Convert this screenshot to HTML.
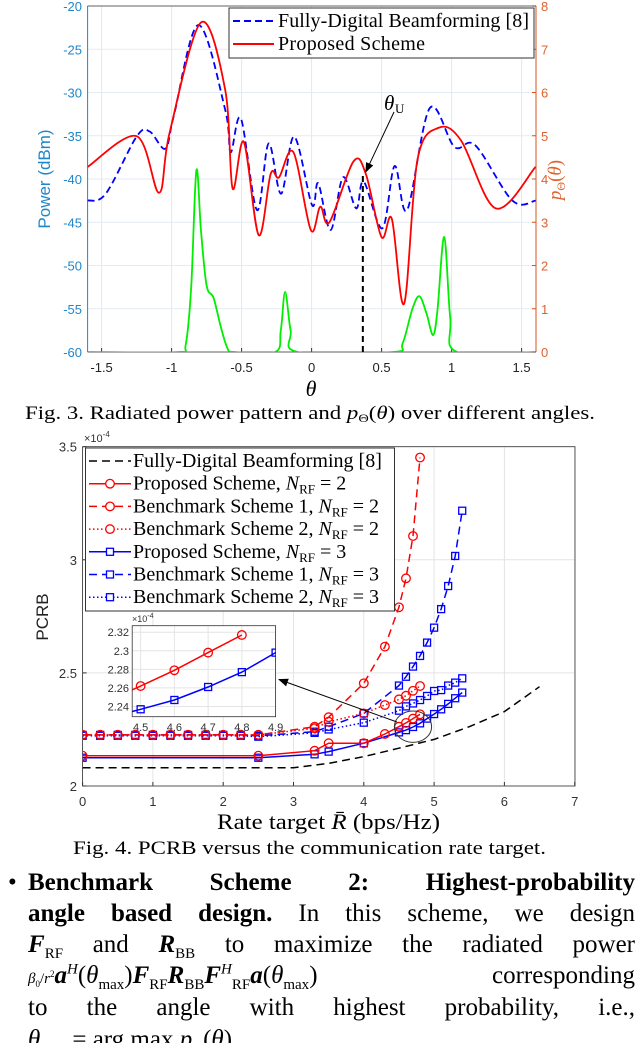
<!DOCTYPE html>
<html><head><meta charset="utf-8">
<style>
html,body{margin:0;padding:0;background:#fff;}
#wrap{position:relative;width:640px;height:1043px;overflow:hidden;background:#fff;}
svg{position:absolute;left:0;top:0;}
.ln{position:absolute;left:28px;width:607px;height:30px;font-family:"Liberation Serif",serif;font-size:25px;line-height:30px;white-space:nowrap;text-align:justify;text-align-last:justify;color:#000;}
.b{font-weight:bold;}
.m{font-style:italic;font-weight:bold;}
sub,sup{font-size:60%;line-height:0;}
</style></head>
<body>
<div id="wrap">
<svg id="svg" width="640" height="1043" viewBox="0 0 640 1043" font-family="Liberation Sans, sans-serif"></svg>
<div class="ln" style="top:868px;left:8px;width:16px;text-align-last:left">•</div>
<div class="ln b" style="top:868px">Benchmark Scheme 2: Highest-probability</div>
<div class="ln" style="top:899px"><span class="b">angle based design.</span> In this scheme, we design</div>
<div class="ln" style="top:930px"><span class="m">F</span><sub>RF</sub> and <span class="m">R</span><sub>BB</sub> to maximize the radiated power</div>
<div class="ln" style="top:961px"><span style="font-size:15px"><i>β</i><sub>0</sub>/<i>r</i><sup>2</sup></span><span class="m">a</span><sup><i>H</i></sup>(<i>θ</i><sub>max</sub>)<span class="m">F</span><sub>RF</sub><span class="m">R</span><sub>BB</sub><span class="m">F</span><sup><i>H</i></sup><sub>RF</sub><span class="m">a</span>(<i>θ</i><sub>max</sub>) corresponding</div>
<div class="ln" style="top:993px">to the angle with highest probability, i.e.,</div>
<div class="ln" style="top:1025px;text-align-last:left"><i>θ</i><sub>max</sub> = arg max <i>p</i><sub>Θ</sub>(<i>θ</i>)</div>
</div>
<script>
// ---------- Fig 3 data ----------
const redTheta=[-1.6,-1.25,-1.09,-1.015,-0.79,-0.617,-0.564,-0.484,-0.378,-0.292,-0.233,-0.13,-0.006,0.062,0.127,0.298,0.387,0.499,0.573,0.661,0.756,0.903,1.066,1.316,1.6];
const redPower=[-38.6,-35.05,-41.6,-34.7,-21.9,-29.7,-41.1,-35.7,-46.5,-39.4,-39.8,-36.9,-45.9,-43.2,-45,-38,-39.4,-46.7,-44.6,-54.4,-37.8,-34.1,-35.5,-43.4,-38.6];
const blueTheta=[-1.6,-1.47,-1.25,-1.157,-1.045,-0.986,-0.809,-0.617,-0.578,-0.505,-0.39,-0.307,-0.218,-0.124,0.003,0.047,0.136,0.224,0.319,0.372,0.505,0.593,0.682,0.844,1.021,1.169,1.434,1.6];
const bluePower=[-42.5,-41.7,-35.1,-34.5,-36.5,-32.8,-22.2,-32,-36.9,-33,-43.6,-35.9,-41.7,-35.1,-43,-40.5,-45.9,-39.8,-43.4,-40.3,-45.7,-38.5,-43.6,-31.8,-36.3,-36.1,-42.5,-42.5];
const pdfTheta=[-1.6,-0.95,-0.9,-0.86,-0.823,-0.79,-0.75,-0.7,-0.65,-0.6,-0.55,-0.26,-0.22,-0.189,-0.15,-0.1,0.58,0.65,0.72,0.77,0.82,0.868,0.9,0.947,0.99,1.04,1.6];
const pdfVal=[0,0,0.15,1.5,4.2,2.8,1.54,1.25,0.6,0.08,0,0,0.5,1.39,0.5,0,0,0.2,1.0,1.29,0.9,0.39,1.0,2.66,0.8,0,0];
const thetaTicks=[-1.5,-1,-0.5,0,0.5,1,1.5];
const thetaTickLabels=["-1.5","-1","-0.5","0","0.5","1","1.5"];
const powerTicks=[-20,-25,-30,-35,-40,-45,-50,-55,-60];
const pdfTicks=[0,1,2,3,4,5,6,7,8];
const thetaU=0.366, thetaUPower=-39.4;

// ---------- Fig 4 data ----------
const flatX=[0,0.25,0.5,0.75,1,1.25,1.5,1.75,2,2.25,2.5];
const fdX=[0,3,3.5,4,4.5,5,5.5,6,6.5];
const fdY=[2.081,2.081,2.100,2.130,2.167,2.206,2.262,2.329,2.439];
const p2X=[0,2.5,3.3,3.5,4,4.3,4.5,4.6,4.7,4.8];
const p2Y=[2.134,2.134,2.156,2.189,2.189,2.230,2.262,2.279,2.298,2.317];
const b12X=[...flatX,3.3,3.5,4,4.3,4.5,4.6,4.7,4.8];
const b12Y=[2.226,2.226,2.226,2.226,2.226,2.226,2.226,2.226,2.226,2.226,2.226,2.262,2.304,2.454,2.616,2.790,2.918,3.105,3.452];
const b22X=[...flatX,3.3,3.5,4,4.3,4.5,4.6,4.7,4.8];
const b22Y=[2.226,2.226,2.226,2.226,2.226,2.226,2.226,2.226,2.226,2.226,2.226,2.255,2.284,2.321,2.358,2.383,2.399,2.421,2.442];
const p3X=[0,2.5,3.3,3.5,4,4.5,4.6,4.7,4.8,4.9,5.0,5.1,5.2,5.3,5.4];
const p3Y=[2.125,2.125,2.140,2.152,2.189,2.237,2.247,2.261,2.277,2.298,2.318,2.339,2.363,2.388,2.413];
const b13X=[...flatX,3.3,3.5,4,4.5,4.6,4.7,4.8,4.9,5.0,5.1,5.2,5.3,5.4];
const b13Y=[2.226,2.226,2.226,2.226,2.226,2.226,2.226,2.226,2.226,2.226,2.222,2.240,2.262,2.321,2.444,2.483,2.528,2.575,2.634,2.700,2.782,2.884,3.017,3.217];
const b23X=[...flatX,3.3,3.5,4,4.5,4.6,4.7,4.8,4.9,5.0,5.1,5.2,5.3,5.4];
const b23Y=[2.222,2.222,2.222,2.222,2.222,2.222,2.222,2.222,2.222,2.222,2.218,2.235,2.250,2.280,2.333,2.352,2.365,2.380,2.398,2.420,2.424,2.444,2.457,2.476];
const rateTicks=[0,1,2,3,4,5,6,7];
const pcrbTicks=[2,2.5,3,3.5];
const pcrbTickLabels=["2","2.5","3","3.5"];
const insetXTicks=[4.5,4.6,4.7,4.8,4.9];
const insetYTicks=[2.24,2.26,2.28,2.3,2.32];
const insetYLabels=["2.24","2.26","2.28","2.3","2.32"];

const NS="http://www.w3.org/2000/svg";
const svg=document.getElementById('svg');
function el(tag,attrs,parent){const e=document.createElementNS(NS,tag);for(const k in attrs)e.setAttribute(k,attrs[k]);(parent||svg).appendChild(e);return e;}
function txt(s,attrs,parent){const e=el('text',attrs,parent);e.textContent=s;return e;}
function smooth(pts){let d="M"+pts[0][0].toFixed(1)+","+pts[0][1].toFixed(1);
 for(let i=0;i<pts.length-1;i++){const p0=pts[Math.max(0,i-1)],p1=pts[i],p2=pts[i+1],p3=pts[Math.min(pts.length-1,i+2)];
 const c1=[p1[0]+(p2[0]-p0[0])/6,p1[1]+(p2[1]-p0[1])/6],c2=[p2[0]-(p3[0]-p1[0])/6,p2[1]-(p3[1]-p1[1])/6];
 d+="C"+c1[0].toFixed(1)+","+c1[1].toFixed(1)+" "+c2[0].toFixed(1)+","+c2[1].toFixed(1)+" "+p2[0].toFixed(1)+","+p2[1].toFixed(1);}return d;}
function poly(pts){return "M"+pts.map(p=>p[0].toFixed(1)+","+p[1].toFixed(1)).join("L");}

// ===== Fig 3 =====
const L1=87.6,R1=536,T1=6,B1=352;
const X1=t=>311.6+140*t, Y1=db=>T1+(-20-db)*8.65, Y1r=p=>B1-p*43.25;
const g1=el('g',{});  
el('defs',{},g1).innerHTML='<clipPath id="c1"><rect x="87.6" y="6" width="448.4" height="346"/></clipPath><clipPath id="c2"><rect x="82.6" y="446.7" width="492.4" height="339.3"/></clipPath><clipPath id="c3"><rect x="132.2" y="625.7" width="143.4" height="91"/></clipPath><marker id="ah" markerWidth="10" markerHeight="10" refX="9" refY="5" orient="auto"><path d="M0,1L10,5L0,9Z" fill="#000"/></marker>';
thetaTicks.forEach((t,i)=>{
 const g=el('line',{x1:X1(t),x2:X1(t),y1:T1,y2:B1,stroke:'#e3e8ee','stroke-width':1},g1);
  
 const lb=txt(thetaTickLabels[i],{x:X1(t),y:372,'font-size':13,'text-anchor':'middle',fill:'#222'},g1);
  
 el('line',{x1:X1(t),x2:X1(t),y1:B1,y2:B1-4,stroke:'#333'},g1);
});
powerTicks.forEach(v=>{
 const g=el('line',{x1:L1,x2:R1,y1:Y1(v),y2:Y1(v),stroke:'#e3ebf3','stroke-width':1},g1);
  
 const lb=txt(String(v),{x:82,y:Y1(v)+5,'font-size':13,'text-anchor':'end',fill:'#1f86c9'},g1);
  
});
pdfTicks.forEach(v=>{
 const lb=txt(String(v),{x:541,y:Y1r(v)+5,'font-size':13,fill:'#e0622c'},g1);
  
 el('line',{x1:R1,x2:R1-4,y1:Y1r(v),y2:Y1r(v),stroke:'#D95319'},g1);
});
el('line',{x1:L1,x2:L1,y1:T1,y2:B1,stroke:'#1f86c9','stroke-width':1},g1);
el('line',{x1:R1,x2:R1,y1:T1,y2:B1,stroke:'#D95319','stroke-width':1},g1);
el('line',{x1:L1,x2:R1,y1:T1,y2:T1,stroke:'#333','stroke-width':0.8},g1);
el('line',{x1:L1,x2:R1,y1:B1,y2:B1,stroke:'#333','stroke-width':0.8},g1);
const cg=el('g',{'clip-path':'url(#c1)'},g1);
let s=el('path',{d:smooth(pdfTheta.map((t,i)=>[X1(t),Y1r(pdfVal[i])])),fill:'none',stroke:'#00ee00','stroke-width':1.8},cg);
 
s=el('path',{d:smooth(blueTheta.map((t,i)=>[X1(t),Y1(bluePower[i])])),fill:'none',stroke:'#0000ff','stroke-width':1.8,'stroke-dasharray':'7,4'},cg);
 
s=el('path',{d:smooth(redTheta.map((t,i)=>[X1(t),Y1(redPower[i])])),fill:'none',stroke:'#ff0000','stroke-width':1.8},cg);
 
s=el('line',{x1:X1(thetaU),x2:X1(thetaU),y1:B1,y2:Y1(thetaUPower),stroke:'#000','stroke-width':2,'stroke-dasharray':'6,4'},g1);
 
el('line',{x1:394,y1:112,x2:X1(thetaU)+3,y2:Y1(thetaUPower)-2,stroke:'#000','stroke-width':1,'marker-end':'url(#ah)'},g1);
s=txt('θ',{x:384,y:110,'font-size':21,'font-style':'italic','font-family':'Liberation Serif, serif'},g1);
 
txt('U',{x:395,y:113,'font-size':13,'font-family':'Liberation Serif, serif'},g1);
const lg1=el('g',{},g1);  
el('rect',{x:229,y:8,width:305,height:50,fill:'#fff',stroke:'#333','stroke-width':1},lg1);
el('line',{x1:233,x2:274,y1:21,y2:21,stroke:'#0000ff','stroke-width':2,'stroke-dasharray':'7,4'},lg1);
txt('Fully-Digital Beamforming [8]',{x:278,y:27,'font-size':20,'textLength':251,'font-family':'Liberation Serif, serif'},lg1);
el('line',{x1:233,x2:274,y1:44,y2:44,stroke:'#ff0000','stroke-width':2},lg1);
txt('Proposed Scheme',{x:278,y:50,'font-size':20,'textLength':147,'font-family':'Liberation Serif, serif'},lg1);
s=txt('Power (dBm)',{x:0,y:0,'font-size':17,fill:'#1f86c9','text-anchor':'middle',transform:'translate(50,179) rotate(-90)'},g1);
 
s=el('text',{'font-size':19,fill:'#e0622c','text-anchor':'middle','font-family':'Liberation Serif, serif',transform:'translate(561,180) rotate(-90)'},g1);
s.innerHTML='<tspan font-style="italic">p</tspan><tspan font-size="12" dy="4">Θ</tspan><tspan dy="-4">(</tspan><tspan font-style="italic">θ</tspan><tspan>)</tspan>';
 
s=txt('θ',{x:311,y:396,'font-size':22,'font-style':'italic','text-anchor':'middle','font-family':'Liberation Serif, serif'},g1);
 
s=el('text',{x:25,y:419,'font-size':19,'textLength':570,'lengthAdjust':'spacingAndGlyphs','font-family':'Liberation Serif, serif'},g1);
s.innerHTML='Fig. 3.  Radiated power pattern and <tspan font-style="italic">p</tspan><tspan font-size="12" dy="3">Θ</tspan><tspan dy="-3">(</tspan><tspan font-style="italic">θ</tspan>) over different angles.';
 

// ===== Fig 4 =====
const L2=82.6,R2=575,T2=446.7,B2=786;
const X2=x=>L2+70.3*x, Y2=v=>B2-(v-2)*226.2;
const g2=el('g',{});  
rateTicks.forEach(t=>{
 const g=el('line',{x1:X2(t),x2:X2(t),y1:T2,y2:B2,stroke:'#e4e4e4'},g2);
  
 el('line',{x1:X2(t),x2:X2(t),y1:B2,y2:B2-4,stroke:'#333'},g2);
 const lb=txt(String(t),{x:X2(t),y:806,'font-size':13,'text-anchor':'middle',fill:'#333'},g2);
  
});
pcrbTicks.forEach((v,i)=>{
 const g=el('line',{x1:L2,x2:R2,y1:Y2(v),y2:Y2(v),stroke:'#e4e4e4'},g2);
  
 el('line',{x1:L2,x2:L2+4,y1:Y2(v),y2:Y2(v),stroke:'#333'},g2);
 const lb=txt(pcrbTickLabels[i],{x:77,y:Y2(v)+5,'font-size':13,'text-anchor':'end',fill:'#333'},g2);
  
});
el('rect',{x:L2,y:T2,width:R2-L2,height:B2-T2,fill:'none',stroke:'#333','stroke-width':0.8},g2);
s=el('text',{x:84,y:442,'font-size':11,fill:'#333'},g2); s.innerHTML='×10<tspan font-size="8" dy="-5">-4</tspan>';
 
function series(xs,ys,color,dash,mk,name,X,Y,parent){
 const g=el('g',{},parent);  
 el('path',{d:poly(xs.map((x,i)=>[X(x),Y(ys[i])])),fill:'none',stroke:color,'stroke-width':1.5,'stroke-dasharray':dash},g);
 xs.forEach((x,i)=>{
  let m;
  if(mk==='o') m=el('circle',{cx:X(x),cy:Y(ys[i]),r:4.3,fill:'none',stroke:color,'stroke-width':1.3},g);
  else if(mk==='s') m=el('rect',{x:X(x)-3.5,y:Y(ys[i])-3.5,width:7,height:7,fill:'none',stroke:color,'stroke-width':1.3},g);
  if(m){ }
 });
}
const pg=el('g',{'clip-path':'url(#c2)'},g2);
series(fdX,fdY,'#000','8,5',null,'fully-digital-series',X2,Y2,pg);
series(b23X,b23Y,'#0000ff','1.5,2.5','s','benchmark2-nrf3-series',X2,Y2,pg);
series(b13X,b13Y,'#0000ff','8,5','s','benchmark1-nrf3-series',X2,Y2,pg);
series(b22X,b22Y,'#ff0000','1.5,2.5','o','benchmark2-nrf2-series',X2,Y2,pg);
series(b12X,b12Y,'#ff0000','8,5','o','benchmark1-nrf2-series',X2,Y2,pg);
series(p3X,p3Y,'#0000ff','none','s','proposed-nrf3-series',X2,Y2,pg);
series(p2X,p2Y,'#ff0000','none','o','proposed-nrf2-series',X2,Y2,pg);
s=el('ellipse',{cx:413,cy:726.7,rx:18.6,ry:15.7,fill:'none',stroke:'#333','stroke-width':1},g2);
 
el('line',{x1:397,y1:722,x2:279,y2:679.5,stroke:'#000','stroke-width':1,'marker-end':'url(#ah)'},g2);
// legend
const lg2=el('g',{},g2);  
el('rect',{x:85.5,y:448,width:309,height:163,fill:'#fff',stroke:'#333','stroke-width':1},lg2);
const legNames=['Fully-Digital Beamforming [8]','Proposed Scheme, ','Benchmark Scheme 1, ','Benchmark Scheme 2, ','Proposed Scheme, ','Benchmark Scheme 1, ','Benchmark Scheme 2, '];
const legN=['','2','2','2','3','3','3'];
const legC=['#000','#ff0000','#ff0000','#ff0000','#0000ff','#0000ff','#0000ff'];
const legD=['8,5','none','8,5','1.5,2.5','none','8,5','1.5,2.5'];
const legM=[null,'o','o','o','s','s','s'];
legNames.forEach((n,i)=>{
 const y=461+i*22.7;
 const g=el('g',{},lg2);  
 el('line',{x1:89,x2:131,y1:y,y2:y,stroke:legC[i],'stroke-width':1.5,'stroke-dasharray':legD[i]},g);
 if(legM[i]==='o') el('circle',{cx:110,cy:y,r:4.3,fill:'#fff',stroke:legC[i],'stroke-width':1.3},g);
 if(legM[i]==='s') el('rect',{x:106.5,y:y-3.5,width:7,height:7,fill:'#fff',stroke:legC[i],'stroke-width':1.3},g);
 const t=el('text',{x:133,y:y+6,'font-size':20,'font-family':'Liberation Serif, serif'},g);
 t.innerHTML=n+(legN[i]?'<tspan font-style="italic">N</tspan><tspan font-size="13" dy="4">RF</tspan><tspan dy="-4"> = '+legN[i]+'</tspan>':'');
});
// inset
const XI=x=>132.2+(x-4.475)*143.4/0.425, YI=v=>716.7-(v-2.229)*91/0.098;
const ig=el('g',{},g2);  
el('rect',{x:132.2,y:625.7,width:143.4,height:91,fill:'#fff'},ig);
insetXTicks.forEach(t=>{el('line',{x1:XI(t),x2:XI(t),y1:625.7,y2:716.7,stroke:'#e4e4e4'},ig);
 const lb=txt(String(t),{x:XI(t),y:731,'font-size':11,'text-anchor':'middle',fill:'#333'},ig);
  });
insetYTicks.forEach((v,i)=>{el('line',{x1:132.2,x2:275.6,y1:YI(v),y2:YI(v),stroke:'#e4e4e4'},ig);
 const lb=txt(insetYLabels[i],{x:129,y:YI(v)+4,'font-size':11,'text-anchor':'end',fill:'#333'},ig);
  });
el('rect',{x:132.2,y:625.7,width:143.4,height:91,fill:'none',stroke:'#333','stroke-width':0.8},ig);
s=el('text',{x:132,y:622,'font-size':9,fill:'#333'},ig); s.innerHTML='×10<tspan font-size="7" dy="-4">-4</tspan>';
const ic=el('g',{'clip-path':'url(#c3)'},ig);
series(p2X,p2Y,'#ff0000','none','o','inset-proposed-nrf2',XI,YI,ic);
series(p3X,p3Y,'#0000ff','none','s','inset-proposed-nrf3',XI,YI,ic);
s=txt('PCRB',{x:0,y:0,'font-size':17,'text-anchor':'middle',fill:'#222',transform:'translate(48,617) rotate(-90)'},g2);
 
s=el('text',{x:217,y:829,'font-size':22,'textLength':223,'lengthAdjust':'spacingAndGlyphs','font-family':'Liberation Serif, serif'},g2);
s.innerHTML='Rate target <tspan font-style="italic">R̄</tspan> (bps/Hz)';
 
s=txt('Fig. 4.  PCRB versus the communication rate target.',{x:73,y:854,'font-size':19,'textLength':473,'lengthAdjust':'spacingAndGlyphs','font-family':'Liberation Serif, serif'},g2);
 
</script>
</body></html>
